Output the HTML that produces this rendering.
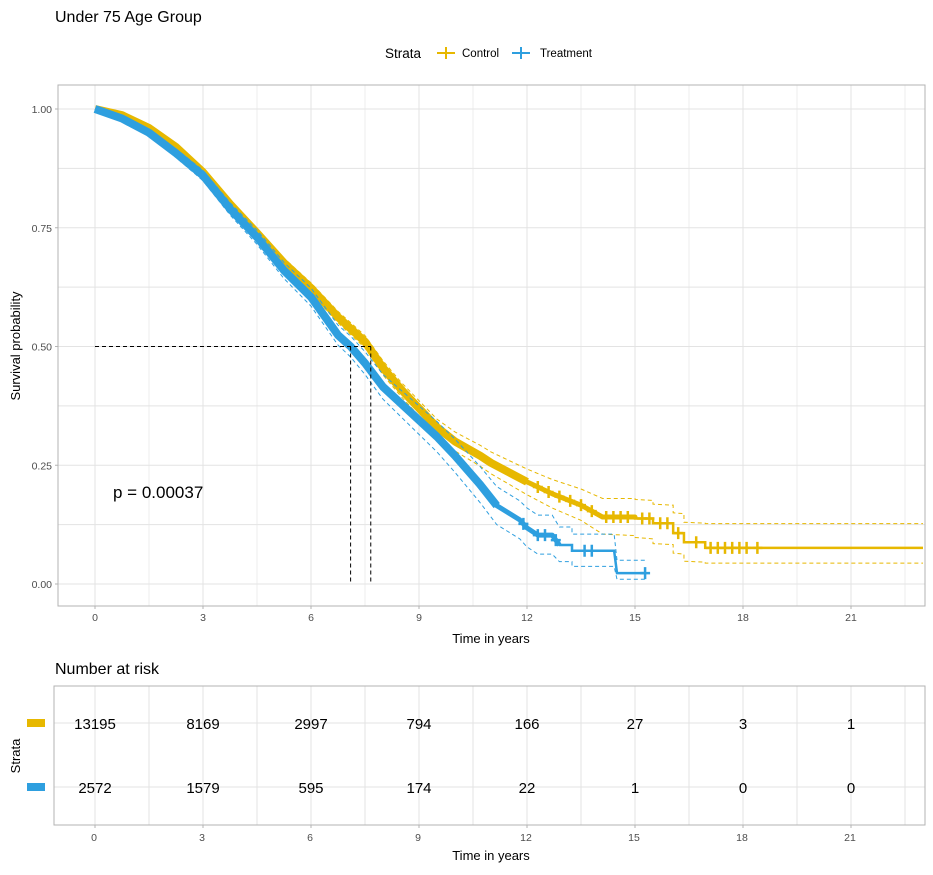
<!DOCTYPE html>
<html><head><meta charset="utf-8">
<style>
body{margin:0;background:#fff;font-family:"Liberation Sans",Arial,sans-serif;}
svg text{font-family:"Liberation Sans",Arial,sans-serif;}
</style></head>
<body>
<svg id="chart" width="933" height="870" xmlns="http://www.w3.org/2000/svg">
<rect width="933" height="870" fill="#fff"/>
<text x="55" y="22" font-size="16" fill="#000">Under 75 Age Group</text>
<g>
<text x="385" y="58" font-size="13.5" fill="#000">Strata</text>
<g><line x1="437" y1="53" x2="455" y2="53" stroke="#E7B800" stroke-width="2"/><line x1="446" y1="47" x2="446" y2="59" stroke="#E7B800" stroke-width="2"/><text x="462" y="57" font-size="11.5" fill="#000">Control</text></g>
<g><line x1="512" y1="53" x2="530" y2="53" stroke="#2E9FDF" stroke-width="2"/><line x1="521" y1="47" x2="521" y2="59" stroke="#2E9FDF" stroke-width="2"/><text x="540" y="57" font-size="11.5" fill="#000">Treatment</text></g>
</g>
<g id="main"></g>
<text x="0" y="0" font-size="13" transform="translate(20,346) rotate(-90)" text-anchor="middle" fill="#000">Survival probability</text>
<text x="491" y="643" font-size="13" text-anchor="middle" fill="#000">Time in years</text>
<text x="113" y="498" font-size="17" fill="#000">p = 0.00037</text>
<text x="55" y="674" font-size="16" fill="#000">Number at risk</text>
<g id="table"></g>
<text x="0" y="0" font-size="13" transform="translate(20,756) rotate(-90)" text-anchor="middle" fill="#000">Strata</text>
<text x="491" y="860" font-size="13" text-anchor="middle" fill="#000">Time in years</text>
</svg>
<script>
const xTicks=[0,3,6,9,12,15,18,21];
const yTicks=[0,0.25,0.5,0.75,1];
const yTickLabels=["0.00","0.25","0.50","0.75","1.00"];
const ctrlTime=[0,0.75,1.5,2.25,3,3.75,4.5,5.25,6,6.75,7.5,8,8.5,9,9.5,10,10.7,11,11.5,12,12.7,13.5,14.1,15,15,15.5,15.5,16.06,16.06,16.36,16.36,16.95,16.95,18.4,23];
const ctrlSurv=[1,0.987,0.96,0.92,0.867,0.80,0.739,0.676,0.623,0.562,0.51,0.455,0.41,0.37,0.33,0.30,0.27,0.255,0.235,0.215,0.19,0.166,0.141,0.141,0.138,0.138,0.128,0.128,0.107,0.107,0.088,0.088,0.076,0.076,0.076];
const ctrlLow=[1,0.984,0.955,0.914,0.86,0.792,0.73,0.666,0.612,0.55,0.497,0.44,0.395,0.354,0.313,0.28,0.248,0.232,0.21,0.188,0.16,0.134,0.105,0.102,0.098,0.095,0.085,0.083,0.065,0.063,0.048,0.046,0.044,0.044,0.044];
const ctrlHigh=[1,0.99,0.965,0.926,0.874,0.808,0.748,0.686,0.634,0.574,0.523,0.47,0.425,0.386,0.347,0.32,0.292,0.278,0.26,0.242,0.22,0.2,0.18,0.18,0.178,0.176,0.168,0.166,0.15,0.148,0.13,0.128,0.127,0.127,0.127];
const trtTime=[0,0.75,1.5,2.25,3,3.75,4.5,5.25,6,6.75,7.1,7.5,8,8.5,9,9.5,10,10.69,11.16,11.8,12,12.3,12.7,12.9,13.25,13.25,14.42,14.5,15.28];
const trtSurv=[1,0.98,0.95,0.907,0.86,0.79,0.73,0.66,0.604,0.524,0.5,0.465,0.415,0.38,0.345,0.31,0.27,0.21,0.165,0.135,0.118,0.103,0.103,0.082,0.082,0.07,0.07,0.023,0.023];
const trtLow=[1,0.975,0.943,0.898,0.849,0.777,0.715,0.643,0.585,0.503,0.478,0.441,0.389,0.352,0.315,0.278,0.235,0.172,0.125,0.095,0.078,0.063,0.063,0.047,0.047,0.037,0.037,0.01,0.01];
const trtHigh=[1,0.985,0.957,0.916,0.871,0.803,0.745,0.677,0.623,0.545,0.522,0.489,0.441,0.408,0.375,0.342,0.305,0.248,0.205,0.175,0.16,0.145,0.145,0.12,0.12,0.105,0.105,0.05,0.05];
const ctrlCensor=[12.3,12.6,12.9,13.2,13.5,13.8,14.2,14.4,14.6,14.8,15.2,15.4,15.7,15.9,16.2,16.7,17.1,17.3,17.5,17.7,17.9,18.1,18.4];
const trtCensor=[11.9,12.3,12.5,12.8,13.6,13.8,15.28];
const riskTimes=[0,3,6,9,12,15,18,21];
const riskCtrl=[13195,8169,2997,794,166,27,3,1];
const riskTrt=[2572,1579,595,174,22,1,0,0];
const NS="http://www.w3.org/2000/svg";
const X0=58,X1=925,Y0=85,Y1=606;
const sx=t=>95+36*t, sy=s=>584-475*s;
function mk(tag,attrs,parent){const e=document.createElementNS(NS,tag);for(const k in attrs)e.setAttribute(k,attrs[k]);parent.appendChild(e);return e;}
const main=document.getElementById('main');
for(let t=-1.5;t<=24;t+=1.5){const x=sx(t);if(x<X0||x>X1)continue;const l=mk('line',{x1:x,x2:x,y1:Y0,y2:Y1,stroke:'#e3e3e3','stroke-width':Number.isInteger(t/3)?1:0.6},main);

}
for(let s=-0.125;s<=1.13;s+=0.125){const y=sy(s);if(y<Y0||y>Y1)continue;const l=mk('line',{x1:X0,x2:X1,y1:y,y2:y,stroke:'#e3e3e3','stroke-width':1},main);

}
const br=mk('rect',{x:X0,y:Y0,width:X1-X0,height:Y1-Y0,fill:'none',stroke:'#b3b3b3'},main);


xTicks.forEach(t=>{mk('line',{x1:sx(t),x2:sx(t),y1:Y1,y2:Y1+3,stroke:'#b3b3b3'},main);const tx=mk('text',{x:sx(t),y:Y1+15,'font-size':10.5,fill:'#4d4d4d','text-anchor':'middle'},main);tx.textContent=t;

});
yTicks.forEach((s,i)=>{mk('line',{x1:X0-3,x2:X0,y1:sy(s),y2:sy(s),stroke:'#b3b3b3'},main);const tx=mk('text',{x:X0-6,y:sy(s)+4,'font-size':10.5,fill:'#4d4d4d','text-anchor':'end'},main);tx.textContent=yTickLabels[i];

});
function lineD(T,S,from,to){let d='';let started=false;for(let i=0;i<T.length;i++){if(T[i]<from||T[i]>to)continue;d+=(started?' L':'M')+sx(T[i])+' '+sy(S[i]);started=true;}return d;}
function interp(T,S,t){for(let i=T.length-1;i>=0;i--){if(T[i]<=t){if(i===T.length-1||T[i+1]===T[i])return S[i];const f=(t-T[i])/(T[i+1]-T[i]);return S[i]+f*(S[i+1]-S[i]);}}return S[0];}
function series(T,S,L,H,C,col,bandTo,midTo,name){
 const g=mk('g',{},main);
 
 
 [L,H].forEach(A=>{const p=mk('path',{d:lineD(T,A,0,99),fill:'none',stroke:col,'stroke-width':1,'stroke-dasharray':'4,3'},g);
 
 });
 const p=mk('path',{d:lineD(T,S,0,99),fill:'none',stroke:col,'stroke-width':2.5},g);
 
 
 const m=mk('path',{d:lineD(T,S,bandTo-0.8,midTo),fill:'none',stroke:col,'stroke-width':5,'stroke-linejoin':'round'},g);
 
 
 const q=mk('path',{d:lineD(T,S,0,bandTo),fill:'none',stroke:col,'stroke-width':8,'stroke-linejoin':'round'},g);
 
 
 C.forEach(t=>{const s=interp(T,S,t);
  const c=mk('path',{d:'M'+(sx(t)-5)+' '+sy(s)+' h10 M'+sx(t)+' '+(sy(s)-6)+' v12',stroke:col,'stroke-width':2.5},g);
  
  });
}
series(ctrlTime,ctrlSurv,ctrlLow,ctrlHigh,ctrlCensor,'#E7B800',12,15,'control');
series(trtTime,trtSurv,trtLow,trtHigh,trtCensor,'#2E9FDF',11.2,12.9,'treatment');
const med=mk('path',{d:`M${sx(0)} ${sy(0.5)} H${sx(7.66)} M${sx(7.1)} ${sy(0.5)} V${sy(0)} M${sx(7.66)} ${sy(0.5)} V${sy(0)}`,stroke:'#000','stroke-width':1,'stroke-dasharray':'4,3',fill:'none'},main);


const tb=document.getElementById('table');
const TX0=54,TX1=925,TY0=686,TY1=825,rowY=[723,787];
for(let t=-1.5;t<=24;t+=1.5){const x=sx(t);if(x<TX0||x>TX1)continue;const l=mk('line',{x1:x,x2:x,y1:TY0,y2:TY1,stroke:'#e3e3e3'},tb);

}
rowY.forEach(y=>{const l=mk('line',{x1:TX0,x2:TX1,y1:y,y2:y,stroke:'#e3e3e3'},tb);

});
const tbr=mk('rect',{x:TX0,y:TY0,width:TX1-TX0,height:TY1-TY0,fill:'none',stroke:'#b3b3b3'},tb);


[['#E7B800',riskCtrl,'control'],['#2E9FDF',riskTrt,'treatment']].forEach(([col,vals,nm],r)=>{
 const sw=mk('rect',{x:27,y:rowY[r]-4,width:18,height:8,fill:col},tb);
 
 
 vals.forEach((v,i)=>{const tx=mk('text',{x:sx(riskTimes[i]),y:rowY[r]+6,'font-size':15,fill:'#000','text-anchor':'middle'},tb);tx.textContent=v;
 
 });
});
riskTimes.forEach(t=>{mk('line',{x1:sx(t),x2:sx(t),y1:TY1,y2:TY1+3,stroke:'#b3b3b3'},tb);const tx=mk('text',{x:sx(t)-1,y:TY1+16,'font-size':10.5,fill:'#4d4d4d','text-anchor':'middle'},tb);tx.textContent=t;

});
</script>
</body></html>
